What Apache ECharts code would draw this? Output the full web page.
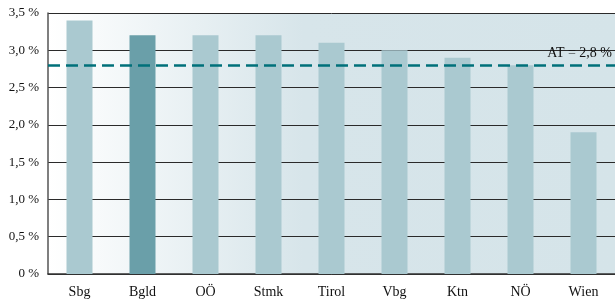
<!DOCTYPE html>
<html>
<head>
<meta charset="utf-8">
<script src="https://cdn.jsdelivr.net/npm/echarts@6/dist/echarts.min.js"></script>
<style>
  html, body { margin: 0; padding: 0; background: #fff; }
  #chart { width: 615px; height: 302px; }
</style>
</head>
<body>
<div id="chart"></div>
<script>
// Bundesländer und Werte (in %)
var categories = ["Sbg", "Bgld", "OÖ", "Stmk", "Tirol", "Vbg", "Ktn", "NÖ", "Wien"];
var values = [3.4, 3.2, 3.2, 3.2, 3.1, 3.0, 2.9, 2.8, 1.9];
var highlight = "Bgld";
var avgValue = 2.8;
var avgLabel = "AT = 2,8 %";

var fmt = function (v) {
  return (v === 0 ? "0" : v.toFixed(1).replace(".", ",")) + " %";
};

var chart = echarts.init(document.getElementById("chart"));
chart.setOption({
  animation: false,
  textStyle: { fontFamily: "Liberation Serif" },
  grid: {
    left: 48, right: 0, top: 13, bottom: 28,
    show: true,
    borderWidth: 0,
    backgroundColor: new echarts.graphic.LinearGradient(0, 0, 1, 0, [
      { offset: 0, color: "#ffffff" },
      { offset: 0.45, color: "#d7e5ea" },
      { offset: 1, color: "#d5e4e9" }
    ])
  },
  xAxis: {
    type: "category",
    data: categories,
    axisLine: { lineStyle: { color: "#333", width: 1.5 } },
    axisTick: { inside: true, length: 6, lineStyle: { color: "#333" } },
    axisLabel: { color: "#111", fontSize: 14, margin: 11 }
  },
  yAxis: {
    type: "value",
    min: 0, max: 3.5, interval: 0.5,
    axisLine: { show: true, lineStyle: { color: "#555", width: 1.5 } },
    axisTick: { show: false },
    axisLabel: { color: "#111", fontSize: 13, margin: 9, formatter: fmt },
    splitLine: { lineStyle: { color: "#2a2a2a", width: 1 } }
  },
  series: [{
    type: "bar",
    barWidth: 26,
    data: values.map(function (v, i) {
      return {
        value: v,
        itemStyle: { color: categories[i] === highlight ? "#6a9fa9" : "#aac9d0" }
      };
    }),
    markLine: {
      silent: true,
      symbol: "none",
      lineStyle: { color: "#00707a", type: [12, 6], width: 2.5 },
      label: {
        show: true,
        position: "insideEndTop",
        formatter: avgLabel,
        color: "#111",
        fontSize: 14,
        fontFamily: "Liberation Serif",
        distance: [3, 5]
      },
      data: [{ yAxis: avgValue }]
    }
  }]
});
</script>
</body>
</html>
